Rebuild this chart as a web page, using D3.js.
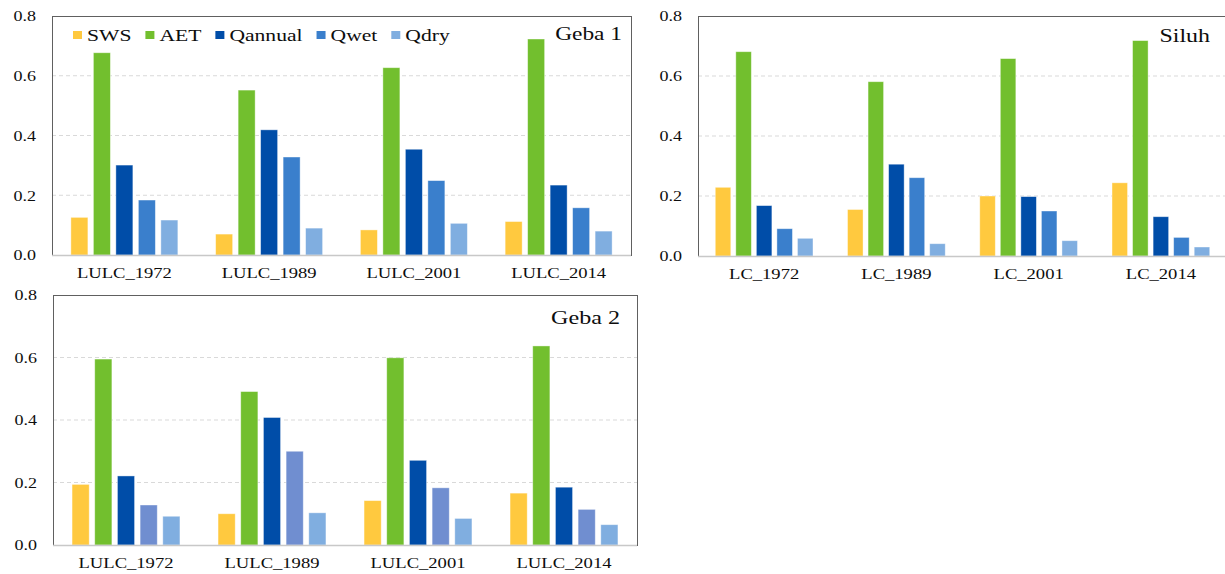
<!DOCTYPE html>
<html>
<head>
<meta charset="utf-8">
<script src="https://cdn.jsdelivr.net/npm/d3@7/dist/d3.min.js"></script>
<style>
  html, body { margin: 0; padding: 0; background: #fff; }
  svg { display: block; }
  text { font-family: "Liberation Serif", "Times New Roman", serif; fill: #0d0d0d; }
</style>
</head>
<body>
<svg id="chart" width="1225" height="574" font-family="Liberation Serif, Times New Roman, serif"></svg>
<script>
// ---------- data ----------
const seriesNames = ["SWS", "AET", "Qannual", "Qwet", "Qdry"];
const lulcCategories = ["LULC_1972", "LULC_1989", "LULC_2001", "LULC_2014"];
const lcCategories = ["LC_1972", "LC_1989", "LC_2001", "LC_2014"];
const yTicks = [0, 0.2, 0.4, 0.6, 0.8];

// Geba 1
const geba1_SWS     = [0.126, 0.070, 0.084, 0.112];
const geba1_AET     = [0.677, 0.552, 0.627, 0.723];
const geba1_Qannual = [0.301, 0.419, 0.354, 0.234];
const geba1_Qwet    = [0.184, 0.328, 0.249, 0.158];
const geba1_Qdry    = [0.117, 0.090, 0.106, 0.080];

// Siluh
const siluh_SWS     = [0.229, 0.155, 0.200, 0.244];
const siluh_AET     = [0.681, 0.581, 0.658, 0.718];
const siluh_Qannual = [0.168, 0.306, 0.198, 0.131];
const siluh_Qwet    = [0.091, 0.261, 0.150, 0.062];
const siluh_Qdry    = [0.059, 0.041, 0.051, 0.030];

// Geba 2
const geba2_SWS     = [0.194, 0.100, 0.142, 0.166];
const geba2_AET     = [0.595, 0.491, 0.599, 0.637];
const geba2_Qannual = [0.221, 0.408, 0.271, 0.185];
const geba2_Qwet    = [0.128, 0.300, 0.183, 0.114];
const geba2_Qdry    = [0.092, 0.103, 0.085, 0.065];

// ---------- styling ----------
const colorsA = ["#FFC93F", "#72BF2E", "#004DA8", "#3A7FCC", "#80AEE0"];
const colorsB = ["#FFC93F", "#72BF2E", "#004DA8", "#708ED0", "#80AEE0"];
const FONT = "'Liberation Serif', 'Times New Roman', serif";

const panels = [
  { title: "Geba 1", cats: lulcCategories,
    values: [geba1_SWS, geba1_AET, geba1_Qannual, geba1_Qwet, geba1_Qdry],
    colors: colorsA, box: { l: 52, t: 16, r: 631, b: 255 },
    titleRightInset: 9, titleBaseline: 40, titleSize: 18, titleStretch: 1.3, legend: true },
  { title: "Siluh", cats: lcCategories,
    values: [siluh_SWS, siluh_AET, siluh_Qannual, siluh_Qwet, siluh_Qdry],
    colors: colorsA, box: { l: 698, t: 16, r: 1227, b: 256 },
    titleRightInset: 17, titleBaseline: 42, titleSize: 18, titleStretch: 1.33, legend: false },
  { title: "Geba 2", cats: lulcCategories,
    values: [geba2_SWS, geba2_AET, geba2_Qannual, geba2_Qwet, geba2_Qdry],
    colors: colorsB, box: { l: 53, t: 295, r: 637, b: 545 },
    titleRightInset: 17, titleBaseline: 324, titleSize: 19, titleStretch: 1.27, legend: false }
];

const svg = d3.select("#chart");

panels.forEach(p => {
  const B = p.box;
  const g = svg.append("g");

  const y = d3.scaleLinear().domain([0, 0.8]).range([B.b, B.t]);
  const x0 = d3.scaleBand().domain(p.cats).range([B.l, B.r]).padding(0);
  const x1 = d3.scaleBand().domain(seriesNames).range([0, x0.bandwidth()])
    .paddingInner(0.244).paddingOuter(0.84);

  // gridlines
  g.append("g").selectAll("line").data(yTicks.filter(t => t > 0 && t < 0.8))
    .join("line")
    .attr("x1", B.l).attr("x2", B.r)
    .attr("y1", d => y(d)).attr("y2", d => y(d))
    .attr("stroke", "#d9d9d9").attr("stroke-width", 1)
    .attr("stroke-dasharray", "4,3");

  // frame
  g.append("rect")
    .attr("x", B.l + 0.5).attr("y", B.t + 0.5)
    .attr("width", B.r - B.l).attr("height", B.b - B.t)
    .attr("fill", "none").attr("stroke", "#606060").attr("stroke-width", 1);

  // bars
  const groups = g.append("g").selectAll("g").data(p.cats).join("g")
    .attr("transform", d => `translate(${x0(d)},0)`);
  groups.selectAll("rect")
    .data((c, ci) => seriesNames.map((s, si) => ({ s, si, v: p.values[si][ci] })))
    .join("rect")
    .attr("x", d => x1(d.s))
    .attr("width", x1.bandwidth())
    .attr("y", d => y(d.v))
    .attr("height", d => y(0) - y(d.v))
    .attr("fill", d => p.colors[d.si])
    .attr("stroke", "#ffffff").attr("stroke-opacity", 0.5).attr("stroke-width", 0.8);

  // baseline (x axis line)
  g.append("line")
    .attr("x1", B.l).attr("x2", B.r)
    .attr("y1", B.b + 0.5).attr("y2", B.b + 0.5)
    .attr("stroke", "#c8c8c8").attr("stroke-width", 1.5);

  // y axis labels
  const yAxis = d3.axisLeft(y).tickValues(yTicks).tickFormat(d3.format(".1f")).tickSize(0).tickPadding(0);
  const ya = g.append("g").attr("transform", `translate(${B.l},0)`).call(yAxis)
    .attr("font-family", FONT);
  ya.select(".domain").remove();
  ya.selectAll("text")
    .attr("x", 0).attr("dy", "0.33em")
    .attr("transform", "translate(-16,0) scale(1.2,1)")
    .style("font-family", FONT)
    .style("font-size", "15px").style("fill", "#0d0d0d");

  // x axis labels
  const xAxis = d3.axisBottom(x0).tickSize(0).tickPadding(0);
  const xa = g.append("g").attr("transform", `translate(0,${B.b})`).call(xAxis)
    .attr("font-family", FONT);
  xa.select(".domain").remove();
  xa.selectAll("text")
    .attr("y", 0).attr("dy", 0)
    .attr("transform", "translate(0,23) scale(1.24,1)")
    .style("font-family", FONT)
    .style("font-size", "15px").style("fill", "#0d0d0d");

  // title
  g.append("text")
    .attr("text-anchor", "end")
    .attr("transform", `translate(${B.r - p.titleRightInset},${p.titleBaseline}) scale(${p.titleStretch},1)`)
    .style("font-family", FONT)
    .style("font-size", p.titleSize + "px")
    .text(p.title);

  // legend
  if (p.legend) {
    let lx = 73;
    const stretch = 1.35;
    seriesNames.forEach((s, i) => {
      g.append("rect").attr("x", lx).attr("y", 31).attr("width", 9).attr("height", 8)
        .attr("fill", p.colors[i]);
      const t = g.append("text")
        .attr("transform", `translate(${lx + 14},41) scale(${stretch},1)`)
        .style("font-family", FONT)
        .style("font-size", "16px")
        .text(s);
      const w = t.node().getComputedTextLength() * stretch;
      lx = lx + 14 + w + 14;
    });
  }
});
</script>
</body>
</html>
